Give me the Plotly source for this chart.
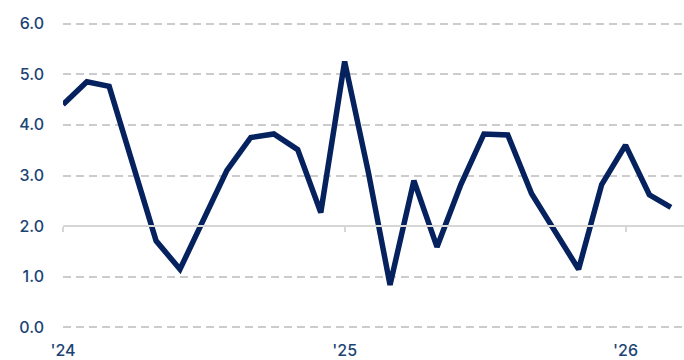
import pandas as pd
import plotly.graph_objects as go

values = [4.40, 4.85, 4.76, 3.23, 1.71, 1.15, 2.12, 3.10, 3.75, 3.82, 3.51, 2.27,
          5.25, 3.05, 0.84, 2.90, 1.59, 2.82, 3.82, 3.80, 2.64, 1.90, 1.15, 2.82,
          3.60, 2.62, 2.37]
months = pd.date_range("2024-01-01", periods=len(values), freq="MS")
year_ticks = ["2024-01-01", "2025-01-01", "2026-01-01"]
year_labels = ["'24", "'25", "'26"]
y_ticks = [0, 1, 2, 3, 4, 5, 6]
y_labels = ["0.0", "1.0", "2.0", "3.0", "4.0", "5.0", "6.0"]
baseline_value = 2.0

LINE = "#05215e"
TXT = "#1b4475"
GRID = "#cccccc"
FONT = "Inter"

y_range = [-0.03, 6.03]
x_range = ["2024-01-01", "2026-03-18"]

fig = go.Figure()
fig.add_trace(go.Scatter(x=months, y=values, xaxis="x2", mode="lines",
                         line=dict(width=0), hoverinfo="skip", showlegend=False))
fig.add_trace(go.Scatter(x=months, y=values, mode="lines",
                         line=dict(color=LINE, width=5.5), showlegend=False,
                         cliponaxis=False))

fig.update_layout(
    width=684, height=360,
    margin=dict(l=63, r=0, t=22, b=28),
    plot_bgcolor="white", paper_bgcolor="white",
    font=dict(family=FONT, size=16, color=TXT),
    xaxis=dict(range=x_range, tickvals=year_ticks, ticktext=year_labels,
               showgrid=False, zeroline=False, showline=False, ticks="",
               ticklabelstandoff=10,
               tickfont=dict(size=16, color=TXT, weight=500)),
    xaxis2=dict(range=x_range, overlaying="x", anchor="free",
                position=(baseline_value - y_range[0]) / (y_range[1] - y_range[0]),
                side="bottom", tickvals=year_ticks, showticklabels=False,
                ticks="outside", ticklen=5, tickwidth=2, tickcolor="#d6d6d6",
                showline=True, linecolor="#d6d6d6", linewidth=2,
                showgrid=False, zeroline=False),
    yaxis=dict(range=y_range, tickvals=y_ticks, ticktext=y_labels,
               showgrid=True, gridcolor=GRID, gridwidth=2, griddash="8px,5px",
               zeroline=False, showline=False, ticks="",
               ticklabelstandoff=18,
               tickfont=dict(size=16, color=TXT, weight=500)),
)

fig.write_html("out.html")
